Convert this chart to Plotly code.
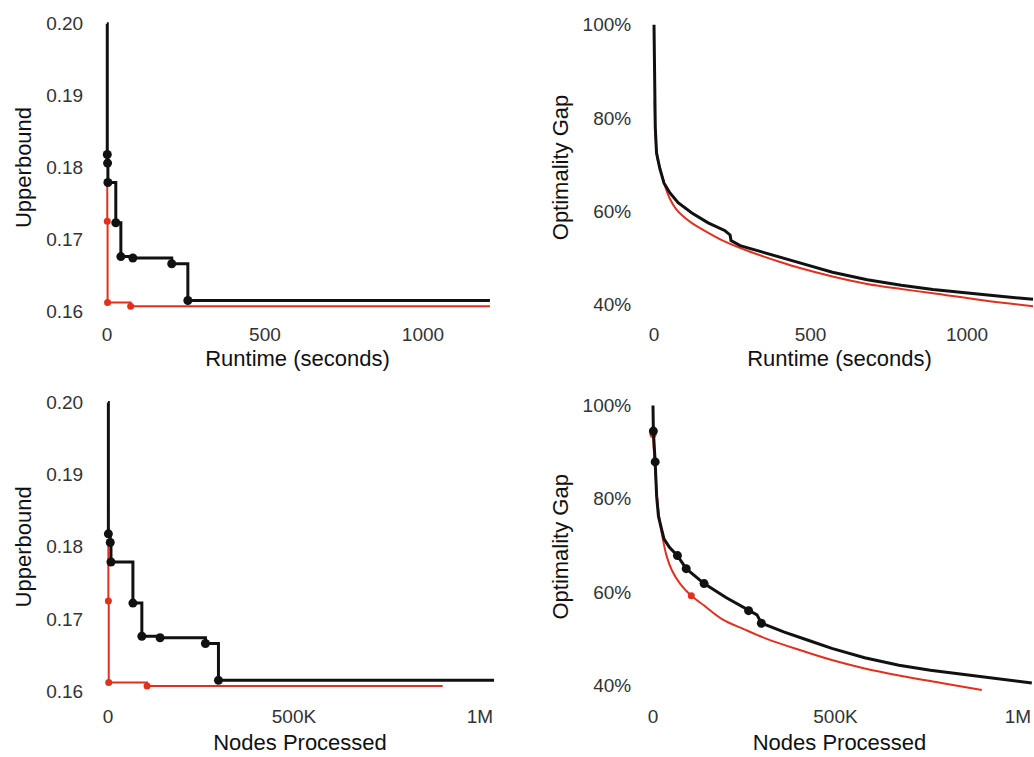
import plotly.graph_objects as go

# ---- Upper bound vs runtime (seconds) ----
ub_time_black_t = [0, 1, 2, 3, 28, 44, 82, 205, 256, 1212]
ub_time_black_v = [0.200, 0.1818, 0.1806, 0.1779, 0.1723, 0.1676, 0.1674, 0.1666, 0.1615, 0.1615]
ub_time_red_t = [0, 1, 2, 75, 1212]
ub_time_red_v = [0.1780, 0.1725, 0.1612, 0.1607, 0.1607]

# ---- Upper bound vs nodes processed ----
ub_node_black_n = [0, 1000, 6000, 8000, 67000, 91000, 140000, 262000, 297000, 1038000]
ub_node_black_v = [0.200, 0.1818, 0.1806, 0.1779, 0.1722, 0.1676, 0.1674, 0.1666, 0.1615, 0.1615]
ub_node_red_n = [0, 1000, 2000, 105000, 900000]
ub_node_red_v = [0.1805, 0.1725, 0.1612, 0.1607, 0.1607]

# ---- Optimality gap vs runtime (seconds) ----
gap_time_black_t = [0, 1, 2, 4, 8, 19, 32, 51, 77, 121, 173, 227, 243, 246, 275, 340, 403, 466, 570,
                    681, 790, 891, 1050, 1211]
gap_time_black_v = [100, 93, 86, 78, 72.5, 69.0, 66.0, 63.9, 61.8, 59.6, 57.5, 55.8, 54.9, 53.7, 52.6,
                    51.3, 50.1, 48.9, 46.9, 45.3, 44.1, 43.2, 42.1, 41.1]
gap_time_red_t = [2, 5, 10, 22, 35, 51, 70, 93, 120, 157, 220, 307, 403, 466, 570, 681, 790, 891, 1050, 1211]
gap_time_red_v = [84, 76, 71.5, 68.6, 65.4, 62.6, 60.5, 58.9, 57.5, 56.0, 53.7, 51.3, 49.1, 47.8, 46.0,
                  44.4, 43.3, 42.4, 40.9, 39.6]

# ---- Optimality gap vs nodes processed ----
gap_node_black_n = [0, 1000, 6000, 10000, 15000, 30000, 45000, 67000, 91000, 140000, 200000, 262000,
                    285000, 297000, 360000, 427000, 490000, 580000, 674000, 760000, 858000, 950000, 1038000]
gap_node_black_v = [100, 94.5, 87.9, 80.5, 76.2, 71.4, 69.6, 67.8, 65.0, 61.8, 58.8, 56.0,
                    55.1, 53.3, 51.4, 49.6, 47.9, 45.9, 44.3, 43.2, 42.2, 41.3, 40.5]
gap_node_black_mark_n = [1000, 6000, 67000, 91000, 140000, 262000, 297000]
gap_node_black_mark_v = [94.5, 87.9, 67.8, 65.0, 61.8, 56.0, 53.3]
gap_node_red_n = [0, 5000, 11000, 18000, 25000, 37000, 52000, 75000, 105000, 140000, 189000, 250000,
                  310000, 400000, 490000, 580000, 674000, 790000, 901000]
gap_node_red_v = [93.8, 87.0, 80.6, 75.5, 72.2, 67.8, 64.6, 61.7, 59.2, 57.1, 54.2, 52.0,
                  50.0, 47.6, 45.4, 43.6, 42.1, 40.5, 39.0]
gap_node_red_mark_n = [0, 105000]
gap_node_red_mark_v = [93.8, 59.2]

BLACK = "#111111"
RED = "#e0311f"
FONT = "Liberation Sans, Arial, Helvetica, sans-serif"

fig = go.Figure()


def add_series(x, y, color, width, xa, ya, shape="linear", mx=None, my=None, msize=9):
    fig.add_trace(go.Scatter(x=x, y=y, mode="lines", line=dict(color=color, width=width, shape=shape),
                             xaxis=xa, yaxis=ya, showlegend=False, hoverinfo="skip", cliponaxis=False))
    if mx is not None:
        fig.add_trace(go.Scatter(x=mx, y=my, mode="markers", marker=dict(color=color, size=msize),
                                 xaxis=xa, yaxis=ya, showlegend=False, cliponaxis=False))


# top-left: upper bound vs runtime
add_series(ub_time_red_t, ub_time_red_v, RED, 2, "x", "y", "hv",
           ub_time_red_t[1:-1], ub_time_red_v[1:-1], 7)
add_series(ub_time_black_t, ub_time_black_v, BLACK, 3, "x", "y", "hv",
           ub_time_black_t[1:-1], ub_time_black_v[1:-1], 9)

# top-right: gap vs runtime
add_series(gap_time_red_t, gap_time_red_v, RED, 2, "x2", "y2", "spline")
add_series(gap_time_black_t, gap_time_black_v, BLACK, 3, "x2", "y2")

# bottom-left: upper bound vs nodes
add_series(ub_node_red_n, ub_node_red_v, RED, 2, "x3", "y3", "hv",
           ub_node_red_n[1:-1], ub_node_red_v[1:-1], 7)
add_series(ub_node_black_n, ub_node_black_v, BLACK, 3, "x3", "y3", "hv",
           ub_node_black_n[1:-1], ub_node_black_v[1:-1], 9)

# bottom-right: gap vs nodes
add_series(gap_node_red_n, gap_node_red_v, RED, 2, "x4", "y4", "spline",
           gap_node_red_mark_n, gap_node_red_mark_v, 7)
add_series(gap_node_black_n, gap_node_black_v, BLACK, 3, "x4", "y4", "linear",
           gap_node_black_mark_n, gap_node_black_mark_v, 9)

W, H = 1034, 757
tick_font = dict(family=FONT, size=19, color="#333333")
title_font = dict(family=FONT, size=22, color="#111111")

ub_ticks = [0.16, 0.17, 0.18, 0.19, 0.20]
gap_ticks = [40, 60, 80, 100]
gap_labels = [f"{v}%" for v in gap_ticks]
node_ticks = [0, 500000, 1000000]
node_labels = ["0", "500K", "1M"]
time_ticks = [0, 500, 1000]


def xdom(a, b):
    return [a / W, b / W]


def ydom(top, bottom):
    return [(H - bottom) / H, (H - top) / H]


common_x = dict(showgrid=False, zeroline=False, showline=False, ticks="outside",
                tickcolor="rgba(0,0,0,0)", tickfont=tick_font, title_font=title_font)
common_y = dict(showgrid=False, zeroline=False, showline=False, ticks="outside",
                tickcolor="rgba(0,0,0,0)", tickfont=tick_font, title_font=title_font)

fig.update_layout(
    width=W, height=H, margin=dict(l=0, r=0, t=0, b=0),
    paper_bgcolor="white", plot_bgcolor="white", showlegend=False,
    xaxis=dict(common_x, domain=xdom(100, 495), range=[-22, 1228], anchor="y", ticklen=2,
               tickvals=time_ticks, title=dict(text="Runtime (seconds)", standoff=6)),
    yaxis=dict(common_y, domain=ydom(13.3, 313.7), range=[0.15949, 0.20050], anchor="x",
               tickvals=ub_ticks, tickformat=".2f", ticklen=12,
               title=dict(text="Upperbound", standoff=8)),
    xaxis2=dict(common_x, domain=xdom(645, 1034), range=[-28.8, 1214], anchor="y2", ticklen=2,
                tickvals=time_ticks, title=dict(text="Runtime (seconds)", standoff=6)),
    yaxis2=dict(common_y, domain=ydom(13.3, 313.7), range=[37.75, 100.99], anchor="x2",
                tickvals=gap_ticks, ticktext=gap_labels, ticklen=9,
                title=dict(text="Optimality Gap", standoff=7)),
    xaxis3=dict(common_x, domain=xdom(100, 500), range=[-21500, 1054000], anchor="y3", ticklen=4,
                tickvals=node_ticks, ticktext=node_labels,
                title=dict(text="Nodes Processed", standoff=8)),
    yaxis3=dict(common_y, domain=ydom(399, 701), range=[0.15946, 0.20054], anchor="x3",
                tickvals=ub_ticks, tickformat=".2f", ticklen=12,
                title=dict(text="Upperbound", standoff=8)),
    xaxis4=dict(common_x, domain=xdom(645, 1034), range=[-21900, 1044000], anchor="y4", ticklen=4,
                tickvals=node_ticks, ticktext=node_labels,
                title=dict(text="Nodes Processed", standoff=8)),
    yaxis4=dict(common_y, domain=ydom(399, 701), range=[37.9, 101.47], anchor="x4",
                tickvals=gap_ticks, ticktext=gap_labels, ticklen=9,
                title=dict(text="Optimality Gap", standoff=7)),
)

fig.write_html("out.html")
